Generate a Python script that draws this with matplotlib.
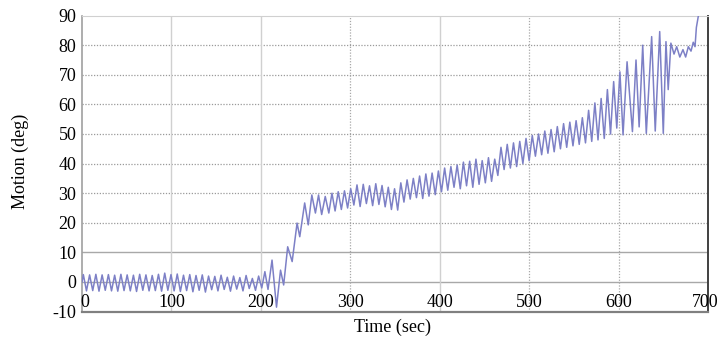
import matplotlib
matplotlib.use("Agg")
import matplotlib.pyplot as plt
import matplotlib.transforms as mtransforms

# ---- data: extrema of the motion trace ----
time_s = [0, 1.5, 5, 8.5, 12, 15.5, 19, 22.5, 26, 29.5, 33, 36.5, 40, 43.5, 47, 50.5,
          54, 57.5, 61, 64.5, 68, 71.5, 75, 78.5, 82, 85.5, 89, 92.5, 96, 99.5, 103,
          106.5, 110, 113.5, 117, 120.5, 124, 127.5, 131, 134.5, 138, 141.5, 145, 148.5,
          152, 155.5, 159, 162.5, 166, 169.5, 173, 176.5, 180, 183.5, 187, 190.5, 194,
          197.5, 201, 204.5,
          208, 212.5, 217.5, 222, 225.5, 230, 235, 240.5, 243.5, 249, 253, 257, 261,
          264.5, 268, 272, 276,
          279.5, 283, 286.5, 290, 293.5, 297, 300.5, 304, 307.5, 311, 314.5, 318, 321.5,
          325, 328.5, 332, 335.5, 339, 342.5, 346, 349.5, 353, 356.5, 360, 363.5, 367,
          370.5, 374, 377.5, 381, 384.5, 388, 391.5, 395, 398.5, 402, 405.5, 409, 412.5,
          416, 419.5, 423, 426.5, 430, 433.5, 437, 440.5, 444, 447.5, 451, 454.5, 458,
          461.5, 465, 468.5, 472, 475.5, 479, 482.5, 486, 489.5, 493, 496.5, 500, 503.5,
          507, 510.5, 514, 517.5, 521, 524.5, 528, 531.5, 535, 538.5, 542, 545.5, 549,
          552.5, 556, 559.5, 563, 566.5, 570, 573.5, 577, 580.5, 584, 587.5, 591, 594.5,
          598, 601.5, 605, 609.5, 615.5, 619.5, 623, 627, 631, 637, 641, 646, 650, 653,
          655.5, 658.5, 662, 665, 668.5, 672, 675, 678, 681, 683.5, 685.5, 687, 689, 691]

motion_deg = [0.0, 2.5, -3.0, 2.4, -2.9, 2.6, -3.1, 2.4, -2.8, 2.5, -3.0, 2.3, -3.1, 2.6,
              -2.9, 2.4, -3.0, 2.3, -3.2, 2.6, -2.8, 2.4, -3.0, 2.2, -2.9, 2.6, -3.1, 3.0,
              -2.8, 2.5, -3.0, 2.7, -3.2, 2.3, -2.9, 2.5, -3.3, 2.2, -2.8, 2.4, -3.4, 2.0,
              -2.6, 1.9, -3.0, 2.3, -2.5, 1.6, -3.1, 2.0, -2.4, 1.5, -3.0, 2.2, -2.2, 1.2,
              -2.8, 2.0, -2.0, 3.5,
              -2.5, 7.4, -8.5, 4.0, -1.0, 11.9, 6.9, 19.9, 15.3, 26.7, 19.3, 29.4, 23.3,
              29.4, 22.8, 28.9, 23.3,
              30.0, 24.0, 30.5, 24.5, 30.8, 25.0, 31.5, 26.0, 32.8, 25.5, 33.0, 26.5, 32.5,
              25.8, 33.2, 26.2, 32.6, 25.4, 32.0, 24.5, 31.5, 24.3, 33.5, 27.0, 34.5, 28.0,
              35.0, 28.5, 35.8, 28.2, 36.5, 29.0, 36.8, 29.5, 37.5, 30.5, 38.5, 31.0, 39.0,
              32.0, 39.5, 31.5, 40.5, 32.5, 40.8, 32.0, 41.5, 33.0, 41.0, 33.5, 42.0, 34.0,
              41.5, 36.0, 45.5, 38.0, 46.5, 38.5, 47.0, 39.0, 47.5, 40.0, 48.5, 41.0, 49.5,
              42.5, 50.0, 43.0, 51.0, 43.5, 51.5, 44.0, 52.5, 45.0, 53.5, 45.5, 54.0, 46.0,
              54.5, 46.5, 55.5, 47.0, 58.0, 47.5, 60.5, 48.0, 62.0, 48.5, 65.0, 50.0, 67.7,
              52.0, 71.0, 49.7, 74.4, 50.8, 75.0, 52.4, 80.0, 50.2, 82.9, 51.0, 84.6, 50.2, 81.2,
              65.0, 80.7, 77.0, 79.5, 76.0, 78.5, 76.0, 79.5, 78.0, 81.0, 79.5, 86.0, 89.6, 93.0]

x_ticks = [0, 100, 200, 300, 400, 500, 600, 700]
y_ticks = [-10, 0, 10, 20, 30, 40, 50, 60, 70, 80, 90]

plt.rcParams['font.family'] = ['Liberation Serif', 'DejaVu Serif']
FS = 13

fig = plt.figure(figsize=(7.21, 3.42), dpi=100)
ax = fig.add_axes([82 / 721, 30.4 / 342, 626 / 721, 296 / 342])
ax.set_xlim(0, 700)
ax.set_ylim(-10, 90)

# grid
for yv in y_ticks[1:-1]:
    if yv in (0, 10):
        ax.axhline(yv, color='#a8a8a8', lw=1.0, zorder=1)
    else:
        ax.axhline(yv, color='#9a9a9a', lw=0.9, ls=(0, (1, 1.3)), zorder=1)
for xv in x_ticks[1:-1]:
    if xv in (100, 200, 400):
        ax.axvline(xv, color='#d0d0d0', lw=1.0, zorder=1)
    else:
        ax.axvline(xv, color='#a8a8a8', lw=0.9, ls=(0, (1, 1.3)), zorder=1)

ax.plot(time_s, motion_deg, color='#7d80c6', lw=1.1, zorder=3, clip_on=True)

# spines
ax.spines['top'].set_color('#d0d0d0')
ax.spines['left'].set_color('#a0a0a0')
ax.spines['bottom'].set_color('#808080')
ax.spines['right'].set_color('#404040')
ax.spines['bottom'].set_linewidth(1.6)
ax.spines['right'].set_linewidth(1.4)
ax.spines['left'].set_linewidth(1.2)

ax.set_yticks(y_ticks)
ax.set_yticklabels([str(v) for v in y_ticks], fontsize=FS)
ax.tick_params(axis='y', length=0, pad=4)
ax.set_xticks(x_ticks)
ax.set_xticklabels([])
ax.tick_params(axis='x', length=0)

trans = mtransforms.blended_transform_factory(ax.transData, ax.transAxes)
for xv in x_ticks:
    ha = 'left' if xv == 0 else 'center'
    xx = xv - 2 if xv == 0 else xv
    if xv == 700:
        xx = 697
    ax.text(xx, 0.003, str(xv), transform=trans, ha=ha, va='bottom', fontsize=FS,
            zorder=4)

fig.text(392 / 721, (342 - 327) / 342, 'Time (sec)', ha='center', va='center',
         fontsize=FS)
fig.text(20 / 721, (342 - 161) / 342, 'Motion (deg)', ha='center', va='center',
         rotation=90, fontsize=FS)

fig.savefig('out.png', dpi=100)
